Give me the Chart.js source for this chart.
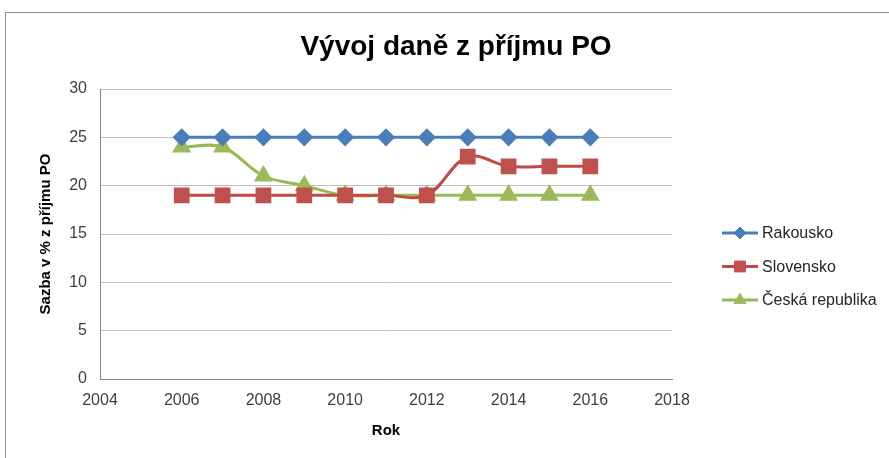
<!DOCTYPE html>
<html>
<head>
<meta charset="utf-8">
<script src="https://cdn.jsdelivr.net/npm/chart.js@4/dist/chart.umd.min.js"></script>
<style>
  html, body { margin: 0; padding: 0; background: #fff; }
  #wrap { position: relative; width: 889px; height: 458px; overflow: hidden; }
  #frame { position: absolute; left: 5px; top: 12px; width: 940px; height: 500px; border: 1px solid #8c8c8c; }
  canvas { position: absolute; left: 0; top: 0; }
</style>
</head>
<body>
<div id="wrap">
  <div id="frame"></div>
  <canvas id="chart" width="889" height="458"></canvas>
</div>
<script>
// Chart data
const chartTitle = 'Vývoj daně z příjmu PO';
const years = [2006, 2007, 2008, 2009, 2010, 2011, 2012, 2013, 2014, 2015, 2016];
const rakousko = [25, 25, 25, 25, 25, 25, 25, 25, 25, 25, 25];
const slovensko = [19, 19, 19, 19, 19, 19, 19, 23, 22, 22, 22];
const ceskaRepublika = [24, 24, 21, 20, 19, 19, 19, 19, 19, 19, 19];
const seriesNames = ['Rakousko', 'Slovensko', 'Česká republika'];

function toPoints(values) {
  return years.map((yr, i) => ({ x: yr, y: values[i] }));
}

const FONT = "'Liberation Sans', Arial, sans-serif";

// Title drawn across the whole chart width
const titlePlugin = {
  id: 'excelTitle',
  afterDraw(chart) {
    const ctx = chart.ctx;
    ctx.save();
    ctx.font = 'bold 28px ' + FONT;
    ctx.fillStyle = '#000';
    ctx.textAlign = 'center';
    ctx.textBaseline = 'middle';
    ctx.fillText(chartTitle, 456, 47);
    ctx.restore();
  }
};

// Legend with line + marker, like Excel
const legendPlugin = {
  id: 'excelLegend',
  afterDraw(chart) {
    const ctx = chart.ctx;
    chart.data.datasets.forEach((ds, i) => {
      const y = 233 + i * 33.5;
      ctx.save();
      ctx.strokeStyle = ds.borderColor;
      ctx.lineWidth = 3;
      ctx.beginPath();
      ctx.moveTo(722, y);
      ctx.lineTo(758, y);
      ctx.stroke();
      ctx.fillStyle = ds.pointBackgroundColor;
      ctx.strokeStyle = ds.pointBackgroundColor;
      ctx.lineWidth = 1;
      Chart.helpers.drawPoint(ctx, { pointStyle: ds.pointStyle, radius: ds.pointRadius * 0.85, borderWidth: 1 }, 740, y);
      ctx.fillStyle = '#262626';
      ctx.font = '16px ' + FONT;
      ctx.textAlign = 'left';
      ctx.textBaseline = 'middle';
      ctx.fillText(ds.label, 762, y + 1);
      ctx.restore();
    });
  }
};

const ctx = document.getElementById('chart').getContext('2d');
new Chart(ctx, {
  type: 'line',
  data: {
    datasets: [
      {
        label: seriesNames[0],
        data: toPoints(rakousko),
        borderColor: '#4a7ebb',
        backgroundColor: '#4a7ebb',
        pointBackgroundColor: '#4a7ebb',
        pointBorderColor: '#4a7ebb',
        pointStyle: 'rectRot',
        pointRadius: 7,
        borderWidth: 3,
        tension: 0.35
      },
      {
        label: seriesNames[1],
        data: toPoints(slovensko),
        borderColor: '#be4b48',
        backgroundColor: '#be4b48',
        pointBackgroundColor: '#c0504d',
        pointBorderColor: '#c0504d',
        pointStyle: 'rect',
        pointRadius: 9,
        borderWidth: 3,
        tension: 0.35
      },
      {
        label: seriesNames[2],
        data: toPoints(ceskaRepublika),
        borderColor: '#98b954',
        backgroundColor: '#98b954',
        pointBackgroundColor: '#9bbb59',
        pointBorderColor: '#9bbb59',
        pointStyle: 'triangle',
        pointRadius: 8,
        borderWidth: 3,
        tension: 0.35
      }
    ]
  },
  options: {
    responsive: false,
    animation: false,
    layout: { padding: { left: 33, right: 217, top: 89, bottom: 14 } },
    plugins: {
      legend: { display: false },
      title: { display: false },
      tooltip: { enabled: false }
    },
    scales: {
      x: {
        type: 'linear',
        min: 2004,
        max: 2018,
        ticks: { stepSize: 2, padding: 12, color: '#404040', font: { family: FONT, size: 16 }, callback: v => String(v) },
        grid: { display: false, drawTicks: false },
        border: { display: true, color: '#868686', width: 1 },
        title: { display: true, text: 'Rok', color: '#000', font: { family: FONT, size: 15, weight: 'bold' } },
        afterFit(scale) { scale.height = 65; }
      },
      y: {
        min: 0,
        max: 30,
        ticks: { stepSize: 5, padding: 13, color: '#404040', font: { family: FONT, size: 16 } },
        grid: { color: '#bfbfbf', lineWidth: 1, drawTicks: false },
        border: { display: true, color: '#868686', width: 1 },
        title: { display: true, text: 'Sazba v % z příjmu PO', color: '#000', font: { family: FONT, size: 15, weight: 'bold' } },
        afterFit(scale) { scale.width = 67; }
      }
    }
  },
  plugins: [titlePlugin, legendPlugin]
});
</script>
</body>
</html>
